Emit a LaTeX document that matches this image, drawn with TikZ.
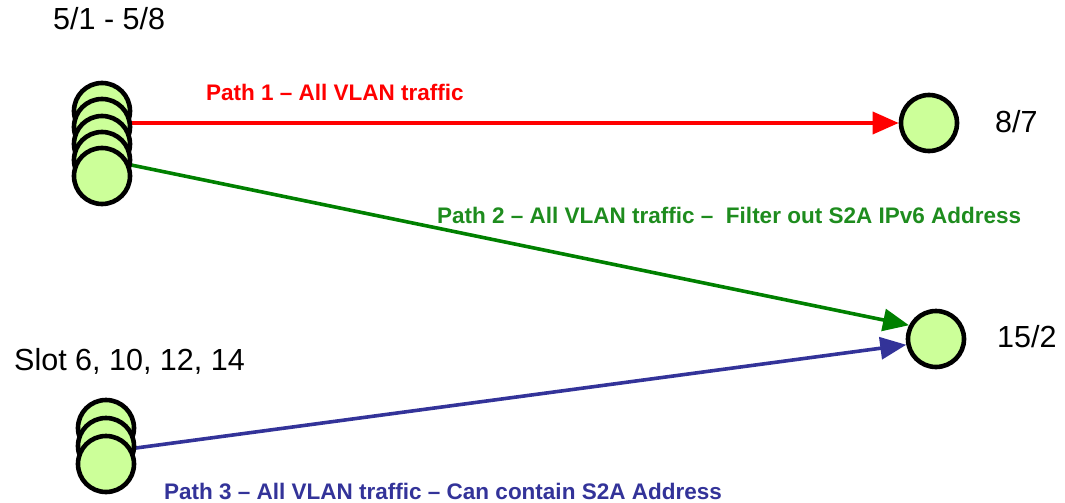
\documentclass[tikz,border=0pt]{standalone}
\usepackage{fontspec}
\setmainfont{Liberation Sans}
\usetikzlibrary{arrows.meta}
\definecolor{portfill}{HTML}{CCFF99}
\definecolor{pathred}{HTML}{FF0000}
\definecolor{pathgreen}{HTML}{008000}
\definecolor{labelgreen}{HTML}{1E8C1E}
\definecolor{pathblue}{HTML}{333399}
\tikzset{
  port/.style={circle, draw=black, fill=portfill, line width=4.6pt, minimum size=56pt, inner sep=0pt},
  conn/.style={line width=3.6pt, -{Triangle[length=26pt,width=22pt]}},
  biglabel/.style={anchor=base west, inner sep=0pt, font=\fontsize{30.5}{33}\selectfont},
  pathlabel/.style={anchor=base west, inner sep=0pt, font=\bfseries\fontsize{22.5}{25}\selectfont},
}
\begin{document}
\begin{tikzpicture}[x=1pt,y=-1pt]
\useasboundingbox (0,0) rectangle (1065,503);
% right ports
\node[port] (p87) at (929,123) {};
\node[port] (p152) at (936,339) {};
% connector start points (behind stacks)
\coordinate (s1) at (102,123);
\coordinate (s2) at (102,159);
\coordinate (s3) at (106,452);
% connectors
\draw[conn, pathred] (s1) -- (p87.west);
\draw[conn, pathgreen] (s2) -- (p152.153);
\draw[conn, pathblue] (s3) -- (p152.191);
% top stack 5/1 - 5/8
\node[port] (a1) at (102,111) {};
\node[port] (a2) at (102,127) {};
\node[port] (a3) at (102,144) {};
\node[port] (a4) at (102,160) {};
\node[port] (a5) at (102,176) {};
% bottom stack slots
\node[port] (b1) at (106,428) {};
\node[port] (b2) at (106,446) {};
\node[port] (b3) at (106,464) {};
% labels
\node[biglabel] (t1) at (53,30) {5/1 - 5/8};
\node[biglabel] (t2) at (995,132) {8/7};
\node[biglabel] (t3) at (997,347) {15/2};
\node[biglabel] (t4) at (14,370) {Slot 6, 10, 12, 14};
\node[pathlabel, text=pathred] (l1) at (206,100) {Path 1 – All VLAN traffic};
\node[pathlabel, text=labelgreen] (l2) at (437,223) {Path 2 – All VLAN traffic –\ \ Filter out S2A IPv6 Address};
\node[pathlabel, text=pathblue] (l3) at (164,499) {Path 3 – All VLAN traffic – Can contain S2A Address};
\end{tikzpicture}
\end{document}
